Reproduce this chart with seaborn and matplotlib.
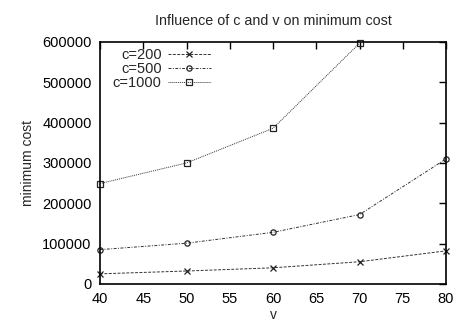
import matplotlib
matplotlib.use("Agg")
import matplotlib.pyplot as plt
import seaborn as sns
import pandas as pd
from matplotlib.ticker import MultipleLocator

sns.set_style("white")
plt.rcParams['font.family'] = ['Liberation Sans', 'DejaVu Sans']

v_200 = [40, 50, 60, 70, 80]
cost_200 = [25000, 32000, 40000, 55000, 82000]
v_500 = [40, 50, 60, 70, 80]
cost_500 = [85000, 101000, 128000, 172000, 310000]
v_1000 = [40, 50, 60, 70]
cost_1000 = [249000, 300000, 386000, 597000]

fig = plt.figure(figsize=(4.57, 3.23), dpi=100)
ax = fig.add_axes([0.219, 0.121, 0.757, 0.749])

series = [
    ("c=200", v_200, cost_200, (0, (3, 1.5)), "x", 3.8),
    ("c=500", v_500, cost_500, (0, (3, 1.5, 1, 1.5)), "o", 3.8),
    ("c=1000", v_1000, cost_1000, (0, (1, 1)), "s", 3.8),
]
for label, xs, ys, ls, mk, ms in series:
    df = pd.DataFrame({"v": xs, "cost": ys})
    sns.lineplot(data=df, x="v", y="cost", ax=ax, color="#333333", linewidth=0.7,
                 linestyle=ls, marker=mk, markersize=ms, markerfacecolor="none",
                 markeredgecolor="#222222", markeredgewidth=0.9, label=label, clip_on=False)

ax.set_xlim(40, 80)
ax.set_ylim(0, 600000)
ax.xaxis.set_major_locator(MultipleLocator(5))
ax.yaxis.set_major_locator(MultipleLocator(100000))
ax.tick_params(direction="in", length=5, width=1, top=True, right=True,
               labelsize=10.5, pad=6, colors="black")
ax.ticklabel_format(style="plain", axis="y")
for s in ax.spines.values():
    s.set_color("black")
    s.set_linewidth(1.2)

ax.set_title("Influence of c and v on minimum cost", fontsize=10.3, pad=12)
ax.set_xlabel("v", fontsize=10, labelpad=1)
ax.set_ylabel("minimum cost", fontsize=10, labelpad=5)

leg = ax.legend(loc="upper left", frameon=False, markerfirst=False, fontsize=10.5,
                handlelength=3.0, handletextpad=0.4, labelspacing=0.0,
                borderaxespad=0.0, bbox_to_anchor=(0.02, 1.0))

fig.savefig("out.png", dpi=100)
